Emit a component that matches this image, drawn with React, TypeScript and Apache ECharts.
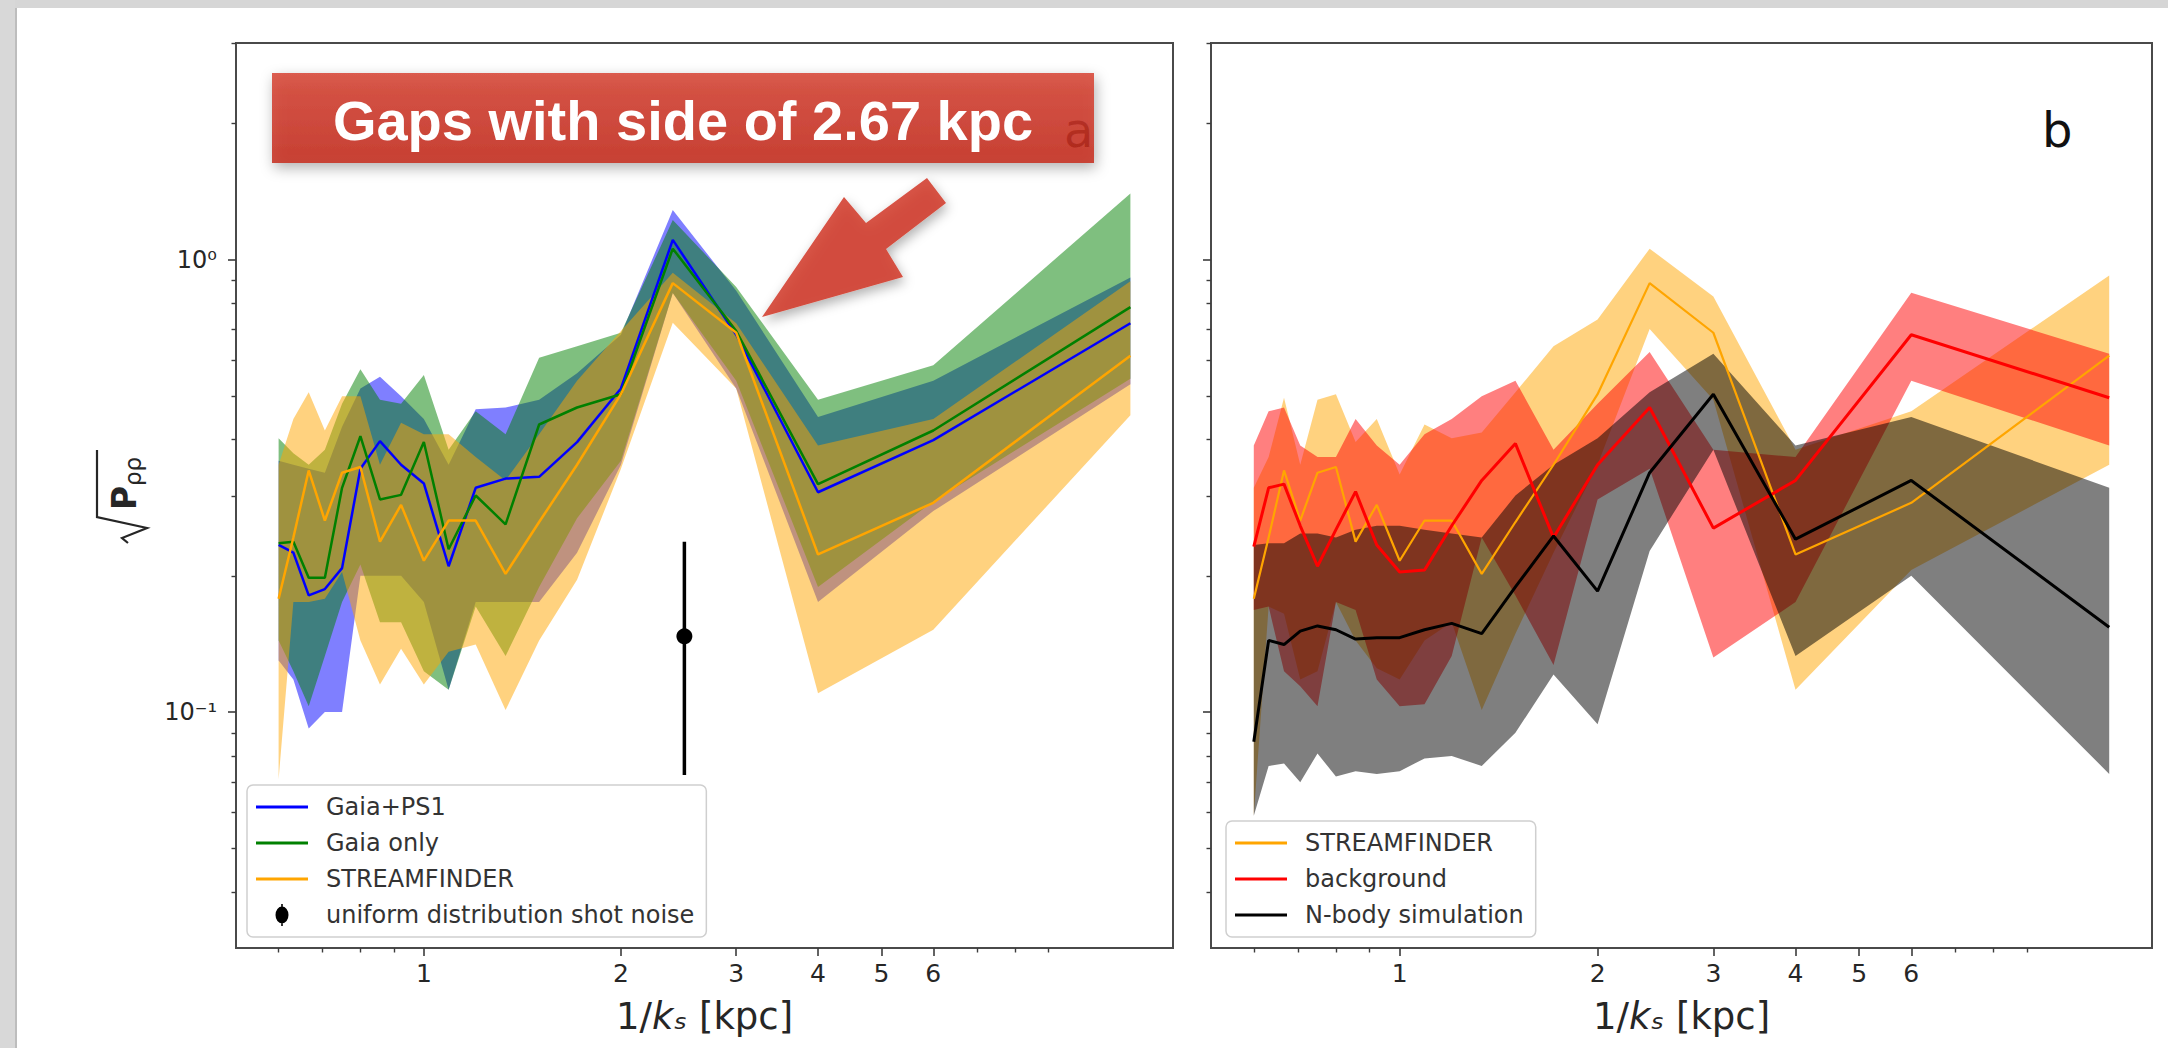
import React, { useEffect, useRef } from "react";
import * as echarts from "echarts";

// ---------- data ----------
// x positions: 1/k_s in kpc
const invK = [0.6, 0.632, 0.667, 0.706, 0.75, 0.8, 0.857, 0.923, 1.0, 1.091, 1.2, 1.333, 1.5, 1.714, 2.0, 2.4, 3.0, 4.0, 6.0, 12.0];

// panel a
const gaiaPs1 = [0.234, 0.225, 0.181, 0.187, 0.208, 0.345, 0.397, 0.352, 0.32, 0.21, 0.313, 0.328, 0.331, 0.395, 0.519, 1.105, 0.682, 0.306, 0.399, 0.723];
const gaiaPs1Hi = [0.359, 0.352, 0.345, 0.338, 0.427, 0.519, 0.551, 0.499, 0.444, 0.352, 0.467, 0.471, 0.49, 0.561, 0.682, 1.287, 0.853, 0.449, 0.54, 0.913];
const gaiaPs1Lo = [0.13, 0.118, 0.092, 0.1, 0.1, 0.2, 0.2, 0.2, 0.175, 0.112, 0.175, 0.175, 0.175, 0.225, 0.352, 0.843, 0.519, 0.175, 0.278, 0.53];

const gaiaOnly = [0.236, 0.238, 0.198, 0.198, 0.313, 0.407, 0.295, 0.302, 0.395, 0.229, 0.301, 0.26, 0.432, 0.471, 0.504, 1.057, 0.695, 0.319, 0.419, 0.785];
const gaiaOnlyHi = [0.403, 0.373, 0.352, 0.38, 0.48, 0.572, 0.49, 0.48, 0.556, 0.38, 0.462, 0.411, 0.607, 0.643, 0.689, 1.223, 0.87, 0.49, 0.584, 1.4];
const gaiaOnlyLo = [0.144, 0.123, 0.103, 0.133, 0.175, 0.212, 0.158, 0.158, 0.123, 0.112, 0.171, 0.133, 0.189, 0.268, 0.359, 0.843, 0.54, 0.189, 0.292, 0.545];

const streamfinder = [0.178, 0.243, 0.342, 0.265, 0.338, 0.348, 0.238, 0.287, 0.216, 0.265, 0.265, 0.202, 0.263, 0.352, 0.504, 0.887, 0.689, 0.223, 0.29, 0.613];
const streamfinderHiA = [0.352, 0.444, 0.509, 0.419, 0.499, 0.499, 0.352, 0.436, 0.411, 0.411, 0.366, 0.325, 0.411, 0.54, 0.695, 0.935, 0.723, 0.388, 0.444, 0.896];
const streamfinderLoA = [0.071, 0.175, 0.175, 0.178, 0.204, 0.144, 0.115, 0.138, 0.115, 0.136, 0.141, 0.101, 0.144, 0.196, 0.345, 0.725, 0.519, 0.11, 0.152, 0.453];

// shot-noise error bar: [x, y, low, high]
const shotNoise = [[2.5, 0.147, 0.0726, 0.238]];

// panel b
const streamfinderHiB = [0.313, 0.366, 0.495, 0.352, 0.49, 0.504, 0.395, 0.444, 0.335, 0.432, 0.403, 0.415, 0.509, 0.643, 0.737, 1.057, 0.829, 0.38, 0.462, 0.922];
const streamfinderLoB = [0.059, 0.171, 0.165, 0.118, 0.123, 0.175, 0.144, 0.125, 0.118, 0.144, 0.158, 0.101, 0.149, 0.225, 0.352, 0.702, 0.49, 0.112, 0.206, 0.352];

const background = [0.232, 0.313, 0.319, 0.258, 0.21, 0.253, 0.307, 0.234, 0.204, 0.206, 0.258, 0.325, 0.392, 0.243, 0.352, 0.471, 0.255, 0.325, 0.682, 0.495];
const backgroundHi = [0.388, 0.462, 0.471, 0.388, 0.366, 0.366, 0.444, 0.388, 0.352, 0.411, 0.444, 0.499, 0.54, 0.38, 0.48, 0.625, 0.38, 0.366, 0.845, 0.619];
const backgroundLo = [0.168, 0.171, 0.123, 0.114, 0.103, 0.175, 0.168, 0.118, 0.103, 0.104, 0.133, 0.243, 0.181, 0.127, 0.295, 0.345, 0.132, 0.175, 0.54, 0.388];

const nbody = [0.086, 0.144, 0.141, 0.151, 0.155, 0.152, 0.145, 0.146, 0.146, 0.152, 0.157, 0.149, 0.189, 0.245, 0.185, 0.338, 0.504, 0.241, 0.325, 0.154];
const nbodyHi = [0.234, 0.236, 0.236, 0.248, 0.248, 0.243, 0.253, 0.258, 0.258, 0.253, 0.248, 0.243, 0.301, 0.352, 0.403, 0.509, 0.619, 0.388, 0.449, 0.313];
const nbodyLo = [0.059, 0.076, 0.077, 0.07, 0.081, 0.072, 0.074, 0.073, 0.074, 0.079, 0.08, 0.076, 0.09, 0.121, 0.094, 0.227, 0.38, 0.133, 0.2, 0.073];

// ticks
const xTickValues = [1, 2, 3, 4, 5, 6];
const xMinorValues = [0.6, 0.7, 0.8, 0.9, 7, 8, 9];
const yTickValues = [0.1, 1];
const yTickText = ["10\u207B\u00B9", "10\u2070"];
const yMinorValues = [0.04, 0.05, 0.06, 0.07, 0.08, 0.09, 0.2, 0.3, 0.4, 0.5, 0.6, 0.7, 0.8, 0.9, 2, 3];

// ---------- styling ----------
const X_MIN = 0.5165;
const X_MAX = 13.94;
const Y_MIN = 0.0301;
const Y_MAX = 3.01;
const FONT = "DejaVu Sans";
const INK = "#262626";
const TICK = "#3c3c3c";

function bandSeries(name: string, axis: number, lo: number[], hi: number[], fill: string, z: number) {
  return {
    type: "custom",
    name,
    xAxisIndex: axis,
    yAxisIndex: axis,
    z,
    silent: true,
    data: invK.map((x, i) => [x, lo[i], hi[i]]),
    encode: { x: 0, y: [1, 2] },
    renderItem: (params: any, api: any) => {
      if (params.dataIndex !== 0) return null;
      const top = invK.map((x, i) => api.coord([x, hi[i]]));
      const bottom = invK.map((x, i) => api.coord([x, lo[i]])).reverse();
      return {
        type: "polygon",
        shape: { points: top.concat(bottom) },
        style: { fill, stroke: null },
      };
    },
  };
}

function lineSeries(name: string, axis: number, ys: number[], color: string, width: number, z: number) {
  return {
    type: "line",
    name,
    xAxisIndex: axis,
    yAxisIndex: axis,
    z,
    silent: true,
    symbol: "none",
    showSymbol: false,
    data: invK.map((x, i) => [x, ys[i]]),
    lineStyle: { color, width },
    itemStyle: { color },
  };
}

function majorX(gridIndex: number) {
  return {
    type: "log",
    gridIndex,
    min: X_MIN,
    max: X_MAX,
    position: "bottom",
    axisLine: { show: false },
    splitLine: { show: false },
    axisTick: { show: true, customValues: xTickValues, length: 8, lineStyle: { color: TICK, width: 1.6 } },
    axisLabel: {
      customValues: xTickValues,
      formatter: (v: number) => String(Math.round(v)),
      fontFamily: FONT,
      fontSize: 25,
      color: INK,
      margin: 13,
    },
    name: "1/{k|k\u209B} [kpc]",
    nameLocation: "middle",
    nameGap: 68,
    nameTextStyle: {
      fontFamily: FONT,
      fontSize: 37,
      color: INK,
      verticalAlign: "middle",
      rich: { k: { fontFamily: FONT, fontSize: 37, fontStyle: "italic", color: INK } },
    },
  };
}

function minorX(gridIndex: number) {
  return {
    type: "log",
    gridIndex,
    min: X_MIN,
    max: X_MAX,
    position: "bottom",
    axisLine: { show: false },
    splitLine: { show: false },
    axisTick: { show: true, customValues: xMinorValues, length: 4.5, lineStyle: { color: TICK, width: 1.4 } },
    axisLabel: { show: false },
  };
}

function majorY(gridIndex: number, showLabels: boolean) {
  return {
    type: "log",
    gridIndex,
    min: Y_MIN,
    max: Y_MAX,
    position: "left",
    axisLine: { show: false },
    splitLine: { show: false },
    axisTick: { show: true, customValues: yTickValues, length: 8, lineStyle: { color: TICK, width: 1.6 } },
    axisLabel: {
      show: showLabels,
      customValues: yTickValues,
      formatter: (v: number) => {
        const i = yTickValues.findIndex((t) => Math.abs(t - v) / t < 1e-6);
        return i >= 0 ? yTickText[i] : "";
      },
      fontFamily: FONT,
      fontSize: 24,
      color: INK,
      margin: 19,
    },
  };
}

function minorY(gridIndex: number) {
  return {
    type: "log",
    gridIndex,
    min: Y_MIN,
    max: Y_MAX,
    position: "left",
    axisLine: { show: false },
    splitLine: { show: false },
    axisTick: { show: true, customValues: yMinorValues, length: 4.5, lineStyle: { color: TICK, width: 1.4 } },
    axisLabel: { show: false },
  };
}

const legendBase = {
  orient: "vertical",
  itemWidth: 52,
  itemHeight: 22,
  itemGap: 12,
  padding: [10, 12, 10, 9],
  backgroundColor: "rgba(255,255,255,0.82)",
  borderColor: "#cfcfcf",
  borderWidth: 1.5,
  borderRadius: 6,
  selectedMode: false,
  z: 10,
  textStyle: { fontFamily: FONT, fontSize: 24, color: "#333", lineHeight: 24, padding: [0, 0, 0, 13] },
};

// legend glyphs drawn in a 52 x 22 box (tiny corner dots fix the box size)
const lineIcon = "path://M0,0h0.01v0.01h-0.01Z M51.99,21.99h0.01v0.01h-0.01Z M0,9.4H52V12.6H0Z";
const errIcon =
  "path://M0,0h0.01v0.01h-0.01Z M51.99,21.99h0.01v0.01h-0.01Z M25.2,0H26.8V4H25.2Z M25.2,18H26.8V22H25.2Z M19.5,11A6.5,8.5 0 1 1 32.5,11A6.5,8.5 0 1 1 19.5,11Z";

export default function App() {
  const ref = useRef<HTMLDivElement>(null);

  useEffect(() => {
    if (!ref.current) return;
    const chart = echarts.init(ref.current, undefined, { renderer: "svg" });

    const boxFill = new echarts.graphic.LinearGradient(0, 0, 0, 1, [
      { offset: 0, color: "rgba(214,68,52,0.86)" },
      { offset: 1, color: "rgba(196,44,30,0.86)" },
    ]);

    const option: any = {
      animation: false,
      backgroundColor: "#ffffff",
      grid: [
        { left: 236, top: 43, width: 937, height: 905, show: true, borderColor: "#4a4a4a", borderWidth: 2, backgroundColor: "transparent", containLabel: false, outerBoundsMode: "none" },
        { left: 1211, top: 43, width: 941, height: 905, show: true, borderColor: "#4a4a4a", borderWidth: 2, backgroundColor: "transparent", containLabel: false, outerBoundsMode: "none" },
      ],
      xAxis: [majorX(0), minorX(0), majorX(1), minorX(1)],
      yAxis: [majorY(0, true), minorY(0), majorY(1, false), minorY(1)],
      legend: [
        {
          ...legendBase,
          left: 247,
          top: 785,
          data: [
            { name: "Gaia+PS1", icon: lineIcon },
            { name: "Gaia only", icon: lineIcon },
            { name: "STREAMFINDER", icon: lineIcon },
            { name: "uniform distribution shot noise", icon: errIcon },
          ],
        },
        {
          ...legendBase,
          left: 1226,
          top: 821,
          data: [
            { name: "STREAMFINDER", icon: lineIcon },
            { name: "background", icon: lineIcon },
            { name: "N-body simulation", icon: lineIcon },
          ],
        },
      ],
      series: [
        // panel a bands
        bandSeries("Gaia+PS1 band", 0, gaiaPs1Lo, gaiaPs1Hi, "rgba(0,0,255,0.5)", 2),
        bandSeries("Gaia only band", 0, gaiaOnlyLo, gaiaOnlyHi, "rgba(0,128,0,0.5)", 2),
        bandSeries("STREAMFINDER band a", 0, streamfinderLoA, streamfinderHiA, "rgba(255,165,0,0.5)", 2),
        // panel a lines
        lineSeries("Gaia+PS1", 0, gaiaPs1, "#0000ff", 2.5, 3),
        lineSeries("Gaia only", 0, gaiaOnly, "#008000", 2.5, 3),
        lineSeries("STREAMFINDER", 0, streamfinder, "#ffa500", 2.5, 3),
        {
          type: "custom",
          name: "uniform distribution shot noise",
          xAxisIndex: 0,
          yAxisIndex: 0,
          z: 4,
          silent: true,
          itemStyle: { color: "#000000" },
          data: shotNoise,
          encode: { x: 0, y: [1, 2, 3] },
          renderItem: (params: any, api: any) => {
            const x = api.value(0);
            const p = api.coord([x, api.value(1)]);
            const lo = api.coord([x, api.value(2)]);
            const hi = api.coord([x, api.value(3)]);
            return {
              type: "group",
              children: [
                { type: "line", shape: { x1: lo[0], y1: lo[1], x2: hi[0], y2: hi[1] }, style: { stroke: "#000", lineWidth: 3.5 } },
                { type: "circle", shape: { cx: p[0], cy: p[1], r: 8 }, style: { fill: "#000" } },
              ],
            };
          },
        },
        // panel b bands
        bandSeries("STREAMFINDER band b", 2, streamfinderLoB, streamfinderHiB, "rgba(255,165,0,0.5)", 2),
        bandSeries("background band", 2, backgroundLo, backgroundHi, "rgba(255,0,0,0.5)", 2),
        bandSeries("N-body band", 2, nbodyLo, nbodyHi, "rgba(0,0,0,0.5)", 2),
        // panel b lines
        lineSeries("STREAMFINDER", 2, streamfinder, "#ffa500", 2.2, 3),
        lineSeries("background", 2, background, "#ff0000", 3, 3),
        lineSeries("N-body simulation", 2, nbody, "#000000", 3, 3),
      ],
      graphic: {
        elements: [
          // slide frame
          { type: "rect", silent: true, z: 0, shape: { x: 0, y: 0, width: 2168, height: 8 }, style: { fill: "#d6d6d6" } },
          { type: "rect", silent: true, z: 0, shape: { x: 0, y: 0, width: 15, height: 1048 }, style: { fill: "#d8d8d8" } },
          { type: "rect", silent: true, z: 0, shape: { x: 15, y: 8, width: 2, height: 1040 }, style: { fill: "#bdbdbd" } },
          // panel labels
          { type: "text", silent: true, z: 50, x: 1064, y: 130, style: { text: "a", fontFamily: FONT, fontSize: 48, fill: "#000", verticalAlign: "middle" } },
          { type: "text", silent: true, z: 50, x: 2042, y: 130, style: { text: "b", fontFamily: FONT, fontSize: 48, fill: "#111", verticalAlign: "middle" } },
          // y axis title: sqrt(P_rho rho)
          {
            type: "group",
            silent: true,
            z: 20,
            x: 120,
            y: 500,
            rotation: Math.PI / 2,
            children: [
              { type: "polyline", shape: { points: [[-43, 8], [-38, 2], [-28, 27], [-17, -23], [50, -23]] }, style: { stroke: INK, lineWidth: 2.2, fill: null } },
              { type: "text", x: -10, y: 4, style: { text: "P", fontFamily: FONT, fontSize: 33, fontWeight: "bold", fill: INK, verticalAlign: "middle" } },
              { type: "text", x: 14, y: 13, style: { text: "\u03C1\u03C1", fontFamily: FONT, fontSize: 23, fill: INK, verticalAlign: "middle" } },
            ],
          },
          // annotation box
          {
            type: "rect",
            silent: true,
            z: 100,
            shape: { x: 272, y: 73, width: 822, height: 90 },
            style: { fill: boxFill, shadowBlur: 14, shadowOffsetX: 2, shadowOffsetY: 5, shadowColor: "rgba(0,0,0,0.35)" },
          },
          {
            type: "text",
            silent: true,
            z: 101,
            x: 683,
            y: 120,
            style: {
              text: "Gaps with side of 2.67 kpc",
              fontFamily: "Liberation Sans",
              fontWeight: "bold",
              fontSize: 56,
              fill: "#ffffff",
              align: "center",
              verticalAlign: "middle",
            },
          },
          {
            type: "polygon",
            silent: true,
            z: 100,
            shape: { points: [[762, 317], [844, 197], [866, 223], [927, 178], [946, 203], [886, 249], [903, 277]] },
            style: { fill: "rgba(210,56,40,0.86)", shadowBlur: 12, shadowOffsetX: 2, shadowOffsetY: 5, shadowColor: "rgba(0,0,0,0.35)" },
          },
        ],
      },
    };

    chart.setOption(option);
    return () => chart.dispose();
  }, []);

  return (
    <div
      ref={ref}
      style={{ position: "fixed", left: 0, top: 0, width: 2168, height: 1048, background: "#ffffff" }}
    />
  );
}
